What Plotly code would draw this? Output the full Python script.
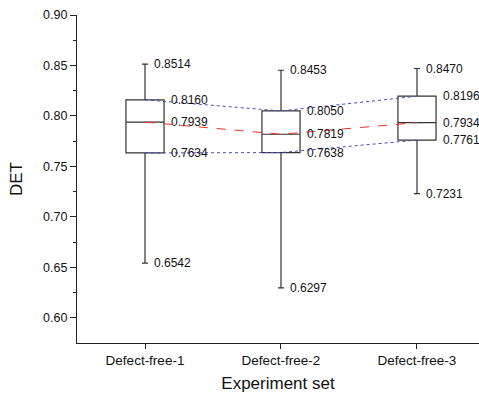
import plotly.graph_objects as go

# Summary statistics of DET for each experiment set
categories = ["Defect-free-1", "Defect-free-2", "Defect-free-3"]
upper_whisker = [0.8514, 0.8453, 0.8470]
q3_values = [0.8160, 0.8050, 0.8196]
median_values = [0.7939, 0.7819, 0.7934]
q1_values = [0.7634, 0.7638, 0.7761]
lower_whisker = [0.6542, 0.6297, 0.7231]
y_ticks = [0.60, 0.65, 0.70, 0.75, 0.80, 0.85, 0.90]

positions = list(range(len(categories)))
font_family = "Liberation Sans, Arial, sans-serif"
box_color = "#333333"

fig = go.Figure()

# Trend lines joining the quartiles and medians across sets
fig.add_trace(go.Scatter(x=positions, y=q3_values, mode="lines",
                         line=dict(color="#4a4ac0", width=1, dash="dot"),
                         hoverinfo="skip", showlegend=False))
fig.add_trace(go.Scatter(x=positions, y=q1_values, mode="lines",
                         line=dict(color="#4a4ac0", width=1, dash="dot"),
                         hoverinfo="skip", showlegend=False))
fig.add_trace(go.Scatter(x=positions, y=median_values, mode="lines",
                         line=dict(color="#e8302a", width=1, dash="dash"),
                         hoverinfo="skip", showlegend=False))

# Box plots from precomputed statistics
for i in positions:
    fig.add_trace(go.Box(
        x=[i], q1=[q1_values[i]], median=[median_values[i]], q3=[q3_values[i]],
        lowerfence=[lower_whisker[i]], upperfence=[upper_whisker[i]],
        width=0.28, whiskerwidth=0.16,
        fillcolor="rgba(255,255,255,0)",
        line=dict(color=box_color, width=1.2),
        boxpoints=False, showlegend=False,
    ))

# Value labels next to whisker ends and box edges
annotations = []
for i in positions:
    for val, shift in [(upper_whisker[i], 7), (lower_whisker[i], 7),
                       (q3_values[i], 24), (median_values[i], 24), (q1_values[i], 24)]:
        annotations.append(dict(
            x=i, y=val, xref="x", yref="y", text=f"{val:.4f}",
            showarrow=False, xanchor="left", yanchor="middle", xshift=shift,
            font=dict(family=font_family, size=12, color="#111111"),
        ))

fig.update_layout(
    width=479, height=400,
    margin=dict(l=77, r=0, t=15, b=57),
    paper_bgcolor="white", plot_bgcolor="white",
    font=dict(family=font_family, size=12, color="#111111"),
    annotations=annotations,
    xaxis=dict(
        range=[-0.5, 2.456], tickvals=positions, ticktext=categories,
        showline=True, linecolor="#222222", linewidth=1.2,
        ticks="outside", ticklen=5, tickcolor="#222222", showgrid=False, zeroline=False,
        tickfont=dict(size=13.5),
        title=dict(text="Experiment set", font=dict(size=17), standoff=9),
    ),
    yaxis=dict(
        range=[0.5752, 0.90], tickvals=y_ticks, tickformat=".2f",
        showline=True, linecolor="#222222", linewidth=1.2,
        ticks="outside", ticklen=6, tickcolor="#222222", showgrid=False, zeroline=False,
        tickfont=dict(size=12.5),
        minor=dict(ticks="outside", ticklen=3, dtick=0.025, tick0=0.60, tickcolor="#222222", showgrid=False),
        title=dict(text="DET", font=dict(size=17), standoff=16),
    ),
)

fig.write_html("out.html")
